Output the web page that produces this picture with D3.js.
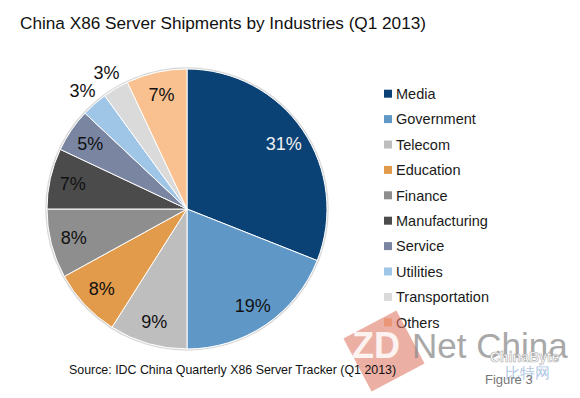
<!DOCTYPE html>
<html>
<head>
<meta charset="utf-8">
<script src="https://cdn.jsdelivr.net/npm/d3@7"></script>
<style>
  body { margin: 0; background: #fff; }
  text { font-family: "Liberation Sans", Arial, sans-serif; }
</style>
</head>
<body>
<div id="chart"></div>
<script>
// data
var industries = ["Media", "Government", "Telecom", "Education", "Finance",
    "Manufacturing", "Service", "Utilities", "Transportation", "Others"];
var shares = [31, 19, 9, 8, 8, 7, 5, 3, 3, 7];
var colours = ["#0b4275", "#5f98c7", "#bebebe", "#e29a4b", "#8e8e8e",
    "#4b4b4b", "#7a86a1", "#9fc5e7", "#dadada", "#f9c190"];
var outsideLabels = ["Utilities", "Transportation"];

var W = 580, H = 398;
var cx = 187, cy = 209, radius = 140;

var svg = d3.select("#chart").append("svg")
    .attr("width", W)
    .attr("height", H);

var data = industries.map(function(d, i) {
    return { name: d, value: shares[i], colour: colours[i] };
});

// title
svg.append("text")
    .attr("x", 20)
    .attr("y", 29)
    .attr("font-size", "17.2px")
    .attr("fill", "#111")
    .text("China X86 Server Shipments by Industries (Q1 2013)");

// pie
var pie = d3.pie()
    .value(function(d) { return d.value; })
    .sort(null);

var arc = d3.arc()
    .innerRadius(0)
    .outerRadius(radius);

var g = svg.append("g")
    .attr("transform", "translate(" + cx + "," + cy + ")");

g.append("circle")
    .attr("r", radius + 1)
    .attr("fill", "none")
    .attr("stroke", "#d9d9d9")
    .attr("stroke-width", 1.5);

var arcs = pie(data);

g.selectAll("path")
    .data(arcs)
    .enter().append("path")
    .attr("d", arc)
    .attr("fill", function(d) { return d.data.colour; })
    .attr("stroke", "#fff")
    .attr("stroke-width", 1);

// slice labels
var inLabel = d3.arc().innerRadius(117).outerRadius(117);
var outLabel = d3.arc().innerRadius(158).outerRadius(158);

g.selectAll("text.pct")
    .data(arcs)
    .enter().append("text")
    .attr("class", "pct")
    .attr("transform", function(d) {
        var a = outsideLabels.indexOf(d.data.name) >= 0 ? outLabel : inLabel;
        return "translate(" + a.centroid(d) + ")";
    })
    .attr("text-anchor", "middle")
    .attr("dy", "0.35em")
    .attr("font-size", "18px")
    .attr("fill", function(d) { return d.data.name == "Media" ? "#f2f2f2" : "#111"; })
    .text(function(d) { return d.data.value + "%"; });

// legend
var legendY = d3.scaleBand()
    .domain(industries)
    .range([81, 335]);

var legend = svg.append("g");

var item = legend.selectAll("g")
    .data(data)
    .enter().append("g")
    .attr("transform", function(d) {
        return "translate(384," + (legendY(d.name) + legendY.bandwidth() / 2) + ")";
    });

item.append("rect")
    .attr("x", 0)
    .attr("y", -4)
    .attr("width", 8)
    .attr("height", 8)
    .attr("fill", function(d) { return d.colour; });

item.append("text")
    .attr("x", 12)
    .attr("dy", "0.36em")
    .attr("font-size", "14.5px")
    .attr("fill", "#1a1a1a")
    .text(function(d) { return d.name; });

// watermark
var wm = svg.append("g");
wm.append("rect")
    .attr("x", -30).attr("y", -30)
    .attr("width", 60).attr("height", 60)
    .attr("transform", "translate(384,351) rotate(-28)")
    .attr("fill", "#e07a68")
    .attr("opacity", 0.6);
wm.append("text")
    .attr("x", 352).attr("y", 358)
    .attr("font-size", "36px")
    .attr("font-weight", "bold")
    .attr("fill", "#fff")
    .attr("opacity", 0.85)
    .text("ZD");
wm.append("text")
    .attr("x", 412).attr("y", 358)
    .attr("font-size", "35px")
    .attr("fill", "#8c8c8c")
    .attr("opacity", 0.75)
    .text("Net China");
wm.append("text")
    .attr("x", 490).attr("y", 362)
    .attr("font-size", "14px")
    .attr("font-weight", "bold")
    .attr("fill", "#fff")
    .attr("stroke", "#aaa")
    .attr("stroke-width", 0.6)
    .text("ChinaByte");
wm.append("text")
    .attr("x", 505).attr("y", 378)
    .attr("font-size", "15px")
    .attr("fill", "#8fb0d8")
    .attr("opacity", 0.7)
    .attr("font-family", "'Noto Sans CJK SC', sans-serif")
    .text("比特网");

// source and figure number
svg.append("text")
    .attr("x", 69)
    .attr("y", 374)
    .attr("font-size", "12.4px")
    .attr("fill", "#111")
    .text("Source: IDC China Quarterly X86 Server Tracker (Q1 2013)");

svg.append("text")
    .attr("x", 485)
    .attr("y", 384)
    .attr("font-size", "13px")
    .attr("fill", "#777")
    .text("Figure 3");
</script>
</body>
</html>
